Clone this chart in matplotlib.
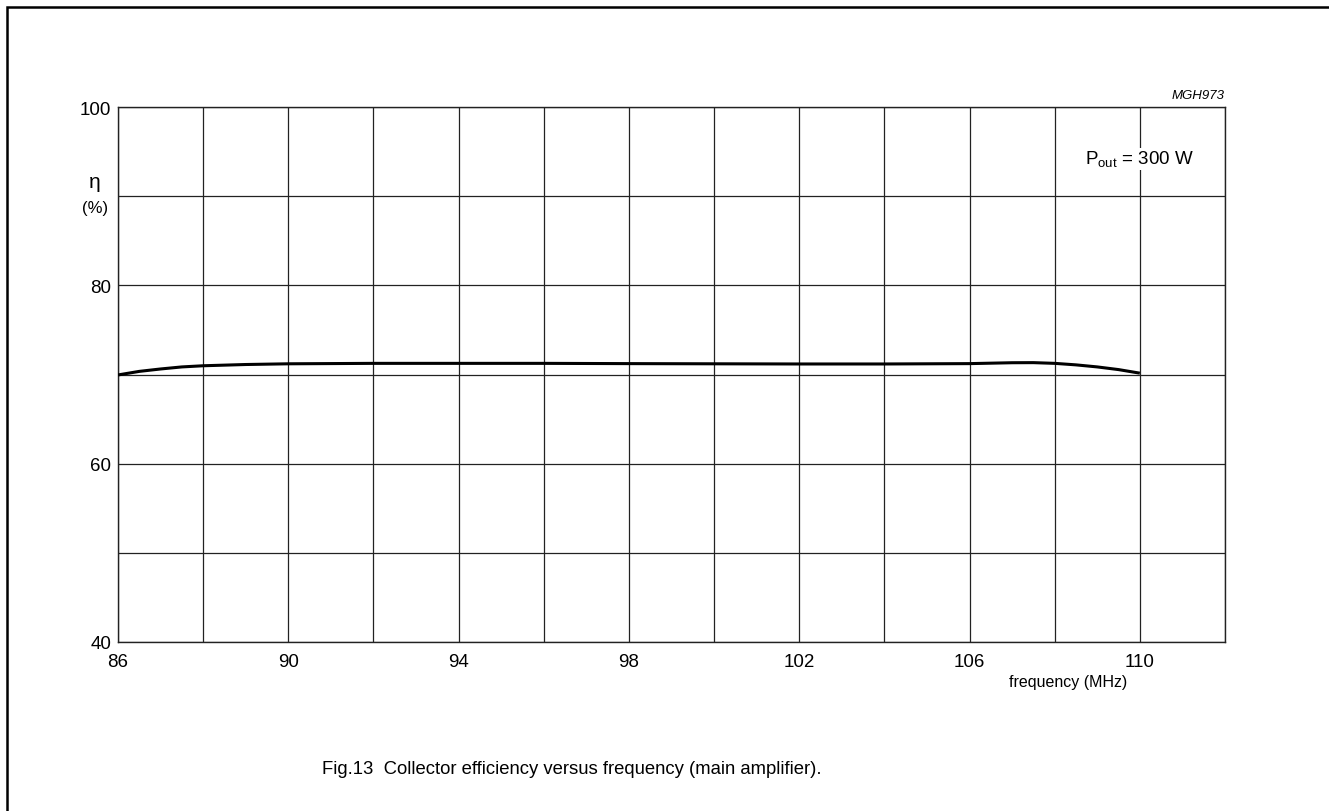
import matplotlib
matplotlib.use("Agg")
import matplotlib.pyplot as plt
from matplotlib.patches import Rectangle
import numpy as np

plt.rcParams['font.family'] = ['Liberation Sans', 'DejaVu Sans']
plt.rcParams['mathtext.fontset'] = 'custom'
plt.rcParams['mathtext.rm'] = 'Liberation Sans'

# curve
freq = [86, 86.5, 87, 87.5, 88, 89, 90, 92, 94, 96, 98, 100, 102, 104, 106, 107, 107.5, 108, 108.5, 109, 109.5, 110]
eff = [69.95, 70.35, 70.62, 70.85, 70.98, 71.12, 71.2, 71.25, 71.25, 71.25, 71.22, 71.2, 71.18, 71.18, 71.22, 71.32, 71.33, 71.25, 71.08, 70.85, 70.55, 70.15]

xticks = [86, 90, 94, 98, 102, 106, 110]
yticks = [40, 60, 80, 100]

fig = plt.figure(figsize=(13.29, 8.12), dpi=100)
ax = fig.add_axes([118/1329, 1-643/812, (1225-118)/1329, (643-108)/812])

ax.plot(freq, eff, color="black", lw=2.2, solid_capstyle="butt", zorder=3)

ax.set_xlim(86, 112)
ax.set_ylim(40, 100)
ax.set_xticks(xticks)
ax.set_yticks(yticks)
ax.set_xticks(np.arange(86, 113, 2), minor=True)
ax.set_yticks(np.arange(40, 101, 10), minor=True)
ax.grid(True, which="both", color="#222222", lw=0.9)
ax.tick_params(which="both", length=0, labelsize=13.5, pad=5)
ax.tick_params(axis="x", pad=8)
for s in ax.spines.values():
    s.set_color("#222222")
    s.set_linewidth(1.0)

ax.text(-0.021, 0.86, "η", transform=ax.transAxes, fontsize=15, ha="center", va="center")
ax.text(-0.021, 0.813, "(%)", transform=ax.transAxes, fontsize=12, ha="center", va="center")
ax.text(1.0, 1.012, "MGH973", transform=ax.transAxes, fontsize=9.5, style="italic", ha="right", va="bottom")
ax.text(110.0, 94.2, r"P$_{\mathrm{out}}$ = 300 W", fontsize=13.5, ha="center", va="center",
        bbox=dict(facecolor="white", edgecolor="none", pad=0.5), zorder=4)
ax.text(1127/1329, 1-683/812, "frequency (MHz)", transform=fig.transFigure, fontsize=11.5, ha="right", va="center")

fig.text(572/1329, 1-770/812, "Fig.13  Collector efficiency versus frequency (main amplifier).", fontsize=13.3, ha="center", va="center")

fig.patches.append(Rectangle((7/1329, -0.05), 1.1, 1.05-8/812, transform=fig.transFigure,
                             fill=False, edgecolor="black", lw=1.8))

fig.savefig("out.png", dpi=100)
